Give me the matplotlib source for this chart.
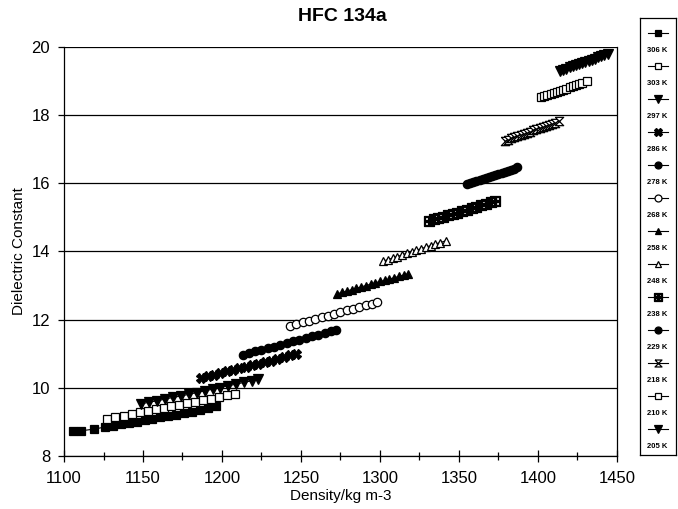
import matplotlib
matplotlib.use("Agg")
import matplotlib.pyplot as plt
from matplotlib.ticker import MultipleLocator

plt.rcParams['font.family'] = ['Liberation Sans', 'DejaVu Sans']

# series, warmest (lowest density) first
temps = ["306 K", "303 K", "297 K", "286 K", "278 K", "268 K", "258 K",
         "248 K", "238 K", "229 K", "218 K", "210 K", "205 K"]

dens_306 = [1106, 1111, 1119, 1126, 1131, 1136, 1141, 1146, 1151, 1156, 1161, 1166, 1171, 1176, 1181, 1186, 1191, 1196]
eps_306 = [8.72, 8.74, 8.79, 8.85, 8.89, 8.93, 8.97, 9.01, 9.05, 9.09, 9.13, 9.17, 9.21, 9.25, 9.30, 9.35, 9.40, 9.47]

dens_303 = [1127, 1132, 1138, 1143, 1148, 1153, 1158, 1163, 1168, 1173, 1178, 1183, 1188, 1193, 1198, 1203, 1208]
eps_303 = [9.08, 9.13, 9.18, 9.23, 9.28, 9.32, 9.37, 9.41, 9.46, 9.50, 9.55, 9.59, 9.64, 9.68, 9.73, 9.78, 9.83]

dens_297 = [1149, 1154, 1159, 1164, 1169, 1174, 1179, 1184, 1189, 1194, 1199, 1204, 1209, 1214, 1219, 1223]
eps_297 = [9.53, 9.58, 9.62, 9.67, 9.72, 9.76, 9.81, 9.86, 9.91, 9.96, 10.01, 10.06, 10.11, 10.16, 10.21, 10.26]

dens_286 = [1187, 1191, 1195, 1199, 1203, 1207, 1211, 1215, 1219, 1223, 1227, 1231, 1235, 1239, 1243, 1247]
eps_286 = [10.30, 10.35, 10.39, 10.44, 10.48, 10.53, 10.57, 10.62, 10.66, 10.71, 10.75, 10.80, 10.85, 10.90, 10.95, 11.00]

dens_278 = [1213, 1217, 1221, 1225, 1229, 1233, 1237, 1241, 1245, 1249, 1253, 1257, 1261, 1265, 1269, 1272]
eps_278 = [10.97, 11.02, 11.07, 11.11, 11.16, 11.21, 11.26, 11.31, 11.36, 11.41, 11.46, 11.51, 11.56, 11.61, 11.66, 11.70]

dens_268 = [1243, 1247, 1251, 1255, 1259, 1263, 1267, 1271, 1275, 1279, 1283, 1287, 1291, 1295, 1298]
eps_268 = [11.82, 11.87, 11.92, 11.97, 12.02, 12.07, 12.12, 12.17, 12.22, 12.27, 12.32, 12.37, 12.42, 12.47, 12.51]

dens_258 = [1273, 1276, 1279, 1282, 1285, 1288, 1291, 1294, 1297, 1300, 1303, 1306, 1309, 1312, 1315, 1318]
eps_258 = [12.76, 12.80, 12.84, 12.88, 12.92, 12.96, 13.00, 13.04, 13.08, 13.12, 13.15, 13.19, 13.23, 13.27, 13.31, 13.35]

dens_248 = [1302, 1305, 1308, 1311, 1314, 1317, 1320, 1323, 1326, 1329, 1332, 1335, 1338, 1342]
eps_248 = [13.72, 13.76, 13.81, 13.85, 13.90, 13.95, 13.99, 14.04, 14.08, 14.13, 14.17, 14.22, 14.26, 14.32]

dens_238 = [1331, 1334, 1337, 1340, 1343, 1346, 1349, 1352, 1355, 1358, 1361, 1364, 1367, 1370, 1373]
eps_238 = [14.90, 14.94, 14.98, 15.02, 15.06, 15.10, 15.14, 15.18, 15.22, 15.27, 15.31, 15.35, 15.39, 15.44, 15.48]

dens_229 = [1355, 1357, 1359, 1361, 1363, 1365, 1367, 1369, 1371, 1373, 1375, 1377, 1379, 1381, 1383, 1385, 1387]
eps_229 = [15.97, 16.00, 16.03, 16.06, 16.09, 16.12, 16.15, 16.18, 16.21, 16.24, 16.27, 16.30, 16.34, 16.37, 16.40, 16.43, 16.47]

dens_218 = [1379, 1381, 1383, 1385, 1387, 1389, 1391, 1393, 1395, 1397, 1399, 1401, 1403, 1405, 1407, 1409, 1411, 1413]
eps_218 = [17.25, 17.28, 17.32, 17.35, 17.38, 17.42, 17.45, 17.48, 17.52, 17.55, 17.58, 17.62, 17.65, 17.68, 17.72, 17.75, 17.78, 17.82]

dens_210 = [1402, 1404, 1406, 1408, 1410, 1412, 1414, 1416, 1418, 1420, 1422, 1424, 1426, 1428, 1431]
eps_210 = [18.52, 18.55, 18.58, 18.62, 18.65, 18.68, 18.72, 18.75, 18.78, 18.82, 18.85, 18.88, 18.92, 18.95, 19.00]

dens_205 = [1414, 1416, 1418, 1420, 1422, 1424, 1426, 1428, 1430, 1432, 1434, 1436, 1438, 1440, 1442, 1444]
eps_205 = [19.30, 19.33, 19.36, 19.40, 19.43, 19.46, 19.50, 19.53, 19.56, 19.60, 19.63, 19.66, 19.70, 19.73, 19.76, 19.80]

densities = [dens_306, dens_303, dens_297, dens_286, dens_278, dens_268, dens_258,
             dens_248, dens_238, dens_229, dens_218, dens_210, dens_205]
eps = [eps_306, eps_303, eps_297, eps_286, eps_278, eps_268, eps_258,
       eps_248, eps_238, eps_229, eps_218, eps_210, eps_205]

hourglass = [(-1, 1), (1, 1), (-1, -1), (1, -1), (-1, 1)]
# (marker, face, size)
styles = [
    ('s', 'black', 6),
    ('s', 'white', 6),
    ('v', 'black', 7),
    ('X', 'black', 7),
    ('o', 'black', 6),
    ('o', 'white', 6),
    ('^', 'black', 6),
    ('^', 'white', 6),
    (r'$\boxplus$', 'black', 7),
    ('o', 'black', 6),
    (hourglass, 'white', 6),
    ('s', 'white', 6),
    ('v', 'black', 7),
]

fig = plt.figure(figsize=(6.78, 5.09), dpi=100)
ax = fig.add_axes([0.0944, 0.1041, 0.8156, 0.8036])

for d, e, (m, fc, ms) in zip(densities, eps, styles):
    ax.plot(d, e, color='black', lw=0.8, marker=m, markerfacecolor=fc,
            markeredgecolor='black', markeredgewidth=0.9, markersize=ms)

ax.set_xlim(1100, 1450)
ax.set_ylim(8, 20)
ax.xaxis.set_major_locator(MultipleLocator(50))
ax.xaxis.set_minor_locator(MultipleLocator(25))
ax.yaxis.set_major_locator(MultipleLocator(2))
ax.grid(axis='y', color='black', lw=0.9)
ax.tick_params(axis='x', which='major', direction='inout', length=8, width=0.9,
               labelsize=12, pad=7)
ax.tick_params(axis='x', which='minor', direction='inout', length=6, width=0.9)
ax.tick_params(axis='y', direction='out', length=4, width=0.9, labelsize=12, pad=6)
for sp in ax.spines.values():
    sp.set_linewidth(0.9)
ax.spines['top'].set_visible(False)

ax.set_xlabel('Density/kg m-3', fontsize=11, labelpad=2)
ax.set_ylabel('Dielectric Constant', fontsize=11, labelpad=4)
fig.text(0.505, 0.968, 'HFC 134a', fontsize=14, fontweight='bold',
         ha='center', va='center')

# legend panel: marker row with its label underneath
lax = fig.add_axes([0.944, 0.106, 0.053, 0.858])
lax.set_xlim(0, 36)
lax.set_ylim(455, 18)
lax.set_xticks([])
lax.set_yticks([])
for sp in lax.spines.values():
    sp.set_linewidth(0.9)
for i, (lab, (m, fc, ms)) in enumerate(zip(temps, styles)):
    ym = 33 + 33 * i
    lax.plot([8, 28], [ym, ym], color='black', lw=0.8, marker=None)
    lax.plot([18], [ym], marker=m, markerfacecolor=fc, markeredgecolor='black',
             markeredgewidth=0.9, markersize=ms - 1, color='black')
    lax.text(17, ym + 17, lab, fontsize=5.5, fontweight='bold', ha='center', va='center')

fig.savefig('out.png', dpi=100)
